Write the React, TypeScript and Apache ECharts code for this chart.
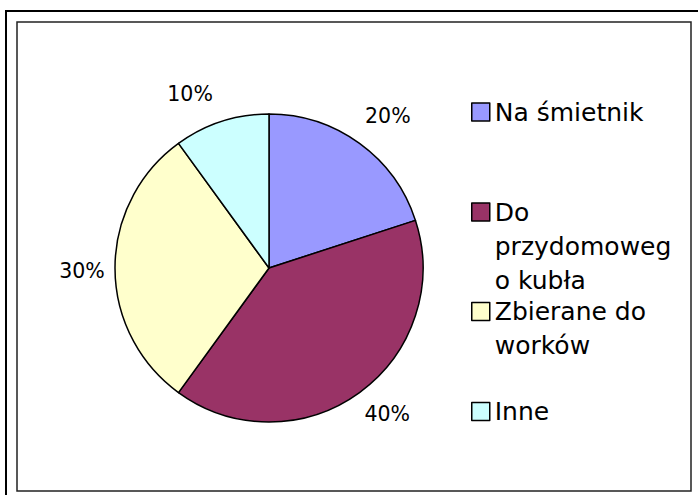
import React, { useEffect, useRef } from "react";
import * as echarts from "echarts";

const categories = ["Na śmietnik", "Do przydomowego kubła", "Zbierane do worków", "Inne"];
const values = [20, 40, 30, 10];
const colors = ["#9999FF", "#993366", "#FFFFCC", "#CCFFFF"];
const legendLabels = ["Na śmietnik", "Do\nprzydomoweg\no kubła", "Zbierane do\nworków", "Inne"];

// label placement (polar, relative to pie centre): angle nudge in degrees, distance in px
const labelNudge = [
  { da: 2, dist: 193 },
  { da: -3, dist: 188 },
  { da: -1, dist: 187 },
  { da: -6.4, dist: 191 },
];

export default function App() {
  const ref = useRef<HTMLDivElement>(null);

  useEffect(() => {
    if (!ref.current) return;
    const chart = echarts.init(ref.current, undefined, { renderer: "svg" });
    const cx = 269;
    const cy = 268;
    const radius = 154;
    const total = values.reduce((a, b) => a + b, 0);
    const mids: number[] = [];
    let acc = 0;
    values.forEach((v) => {
      mids.push(((acc + v / 2) / total) * 360);
      acc += v;
    });

    const font = "DejaVu Sans, Arial, sans-serif";
    const lineH = 34;
    const legendCentres = [112, 212, 311.5, 411.5];

    const legends = categories.map((name, i) => {
      const lines = legendLabels[i].split("\n");
      // pad with blank lines above so the icon (centred on the block) lines up with the first line
      const padded = new Array(lines.length - 1).fill("\u00a0").concat(lines).join("\n");
      const totalH = (2 * lines.length - 1) * lineH;
      return {
        show: true,
        orient: "vertical",
        left: 471,
        top: legendCentres[i] - totalH / 2,
        padding: 0,
        icon: "rect",
        itemWidth: 18,
        itemHeight: 18,
        itemStyle: { borderColor: "#000", borderWidth: 1.5 },
        data: [name],
        formatter: () => padded,
        textStyle: {
          fontFamily: font,
          fontSize: 25,
          color: "#000",
          lineHeight: lineH,
        },
      };
    });

    chart.setOption({
      animation: false,
      backgroundColor: "#fff",
      color: colors,
      legend: legends,
      graphic: [
        { type: "line", shape: { x1: 5, y1: 11, x2: 698, y2: 11 }, style: { stroke: "#000", lineWidth: 2 } },
        { type: "line", shape: { x1: 6, y1: 10, x2: 6, y2: 495 }, style: { stroke: "#000", lineWidth: 2 } },
        {
          type: "rect",
          shape: { x: 17, y: 22, width: 674, height: 469 },
          style: { fill: "none", stroke: "#222", lineWidth: 1.5 },
        },
      ],
      series: [
        {
          type: "pie",
          center: [cx, cy],
          radius: radius,
          startAngle: 90,
          clockwise: true,
          data: categories.map((name, i) => ({ name, value: values[i] })),
          itemStyle: { borderColor: "#000", borderWidth: 1.5 },
          emphasis: { disabled: true },
          label: {
            show: true,
            position: "outside",
            formatter: "{d}%",
            fontFamily: font,
            fontSize: 20.5,
            color: "#000",
          },
          labelLine: { show: false },
          labelLayout: (params: any) => {
            const i = params.dataIndex;
            const a = ((mids[i] + labelNudge[i].da) * Math.PI) / 180;
            const d = labelNudge[i].dist;
            return {
              x: cx + d * Math.sin(a),
              y: cy - d * Math.cos(a),
              align: "center",
              verticalAlign: "middle",
            };
          },
        },
      ],
    });
    return () => chart.dispose();
  }, []);

  return (
    <div
      ref={ref}
      style={{ position: "absolute", left: 0, top: 0, width: 698, height: 495 }}
    />
  );
}
